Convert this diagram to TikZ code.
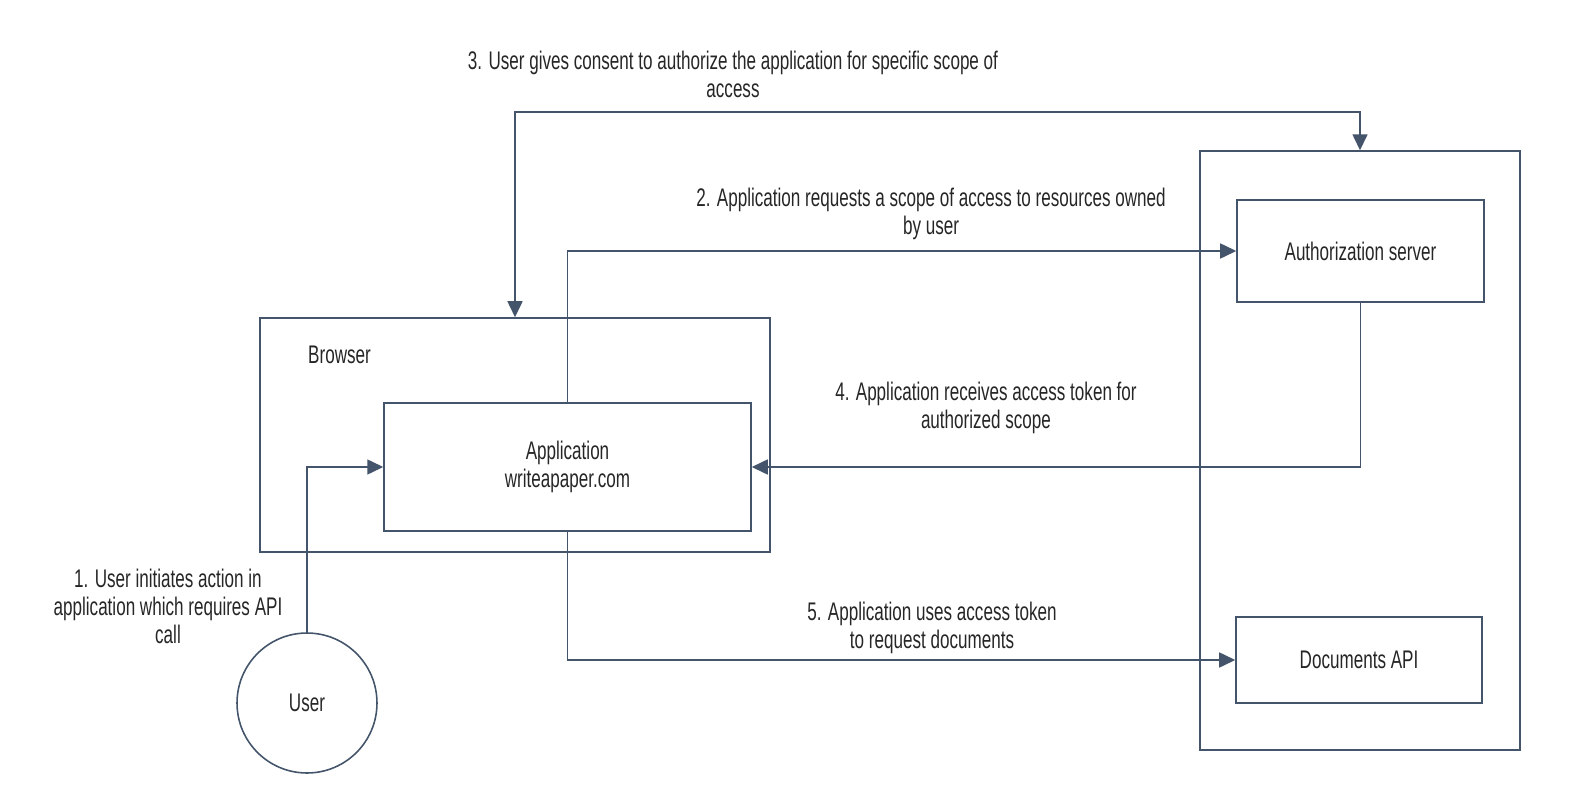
\documentclass[tikz,border=0pt]{standalone}
\usepackage{fontspec}
\setmainfont{Liberation Sans}[FakeStretch=0.67]
\usetikzlibrary{arrows.meta}
\definecolor{linecol}{HTML}{44546A}
\definecolor{textcol}{HTML}{262626}
\begin{document}
\begin{tikzpicture}[x=0.02cm,y=-0.02cm,
  box/.style={draw=linecol,line width=0.9pt,inner sep=0pt},
  flow/.style={draw=linecol,line width=0.9pt,-{Triangle[length=0.32cm,width=0.3cm]}},
  lbl/.style={align=center,text=textcol,font=\fontsize{14.5}{16}\selectfont}]
\useasboundingbox (0,0) rectangle (1593,801);
\node [box,minimum width=6.4cm,minimum height=11.98cm] (outer) at (1360,450.5) {};
\node [box,minimum width=10.2cm,minimum height=4.68cm] (browser) at (515,435) {};
\node [lbl,anchor=west] (browserlbl) at (302,355) {Browser};
\node [box,lbl,minimum width=7.34cm,minimum height=2.56cm] (app) at (567.5,467) {Application\\writeapaper.com};
\node [box,lbl,minimum width=4.94cm,minimum height=2.04cm] (auth) at (1360.5,251) {Authorization server};
\node [box,lbl,minimum width=4.92cm,minimum height=1.72cm] (docs) at (1359,660) {Documents API};
\node [box,lbl,circle,minimum size=2.8cm] (user) at (307,703) {User};
\coordinate (consent) at (937,112);
\draw [flow] (user.north) |- (app.west);
\draw [flow] (app.north) |- (auth.west);
\draw [flow,{Triangle[length=0.32cm,width=0.3cm]}-{Triangle[length=0.32cm,width=0.3cm]}] (browser.north) |- (consent) -| (outer.north);
\draw [flow] (auth.south) |- (app.east);
\draw [flow] (app.south) |- (docs.west);
\node [lbl] (step1) at (168,606) {1. User initiates action in\\application which requires API\\call};
\node [lbl] (step2) at (931,214) {2. Application requests a scope of access to resources owned\\by user};
\node [lbl] (step3) at (733,74) {3. User gives consent to authorize the application for specific scope of\\access};
\node [lbl] (step4) at (986,408) {4. Application receives access token for\\authorized scope};
\node [lbl] (step5) at (932,628) {5. Application uses access token\\to request documents};
\end{tikzpicture}
\end{document}
